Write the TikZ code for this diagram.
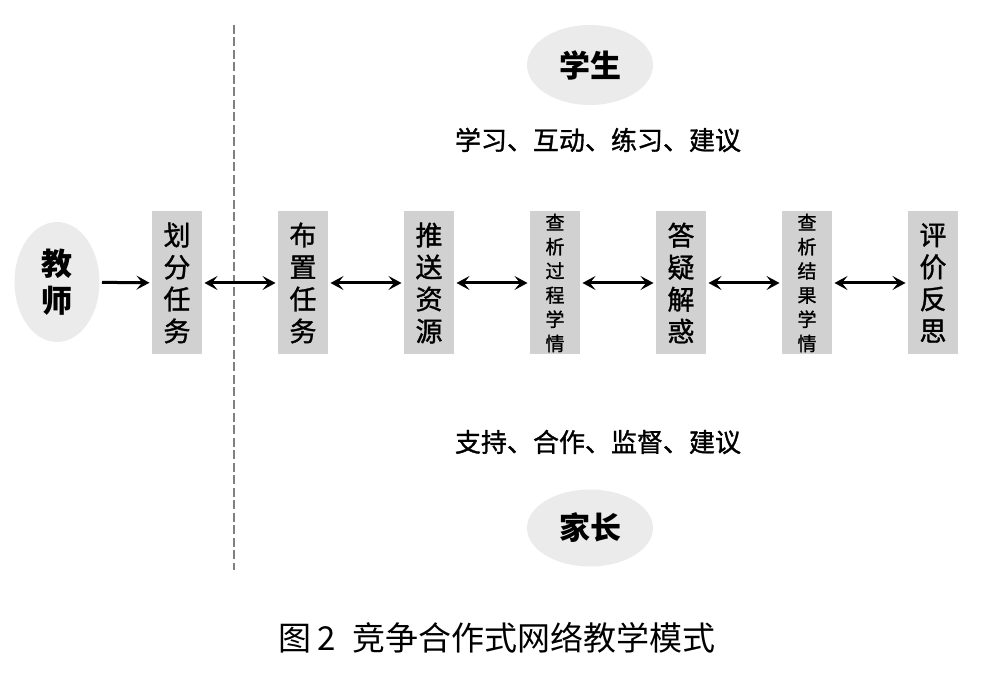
\documentclass[tikz,border=0pt]{standalone}
\usepackage{fontspec}
\newfontfamily\cjk{Noto Sans CJK SC}
\newfontfamily\cjkm[FakeBold=1.2]{Noto Sans CJK SC}
\usetikzlibrary{arrows.meta,positioning,shapes.geometric}

\begin{document}
\begin{tikzpicture}[x=1pt,y=1pt,<->,>={Stealth[length=13pt,width=14pt,inset=5.5pt]},shorten >=1pt,shorten <=1pt,line width=3pt,node distance=126pt,
	task node/.style={rectangle,fill=black!18,minimum width=50pt,minimum height=143pt,inner sep=0pt,align=center,font=\cjkm\fontsize{27}{32}\selectfont},
	small task/.style={task node,font=\cjkm\fontsize{19}{24.2}\selectfont},
	role node/.style={ellipse,fill=black!8,inner sep=0pt,align=center,font=\cjk\bfseries\fontsize{31}{37}\selectfont},
	note/.style={font=\cjkm\fontsize{26}{30}\selectfont}]
	\useasboundingbox (0,0) rectangle (990,678);
	\node[role node,minimum width=85pt,minimum height=120pt] (0) at (57,396) {教\\师};
	\node[task node] (1) at (177,395) {划\\分\\任\\务};
	\node[task node] (2) [right of=1] {布\\置\\任\\务};
	\node[task node] (3) [right of=2] {推\\送\\资\\源};
	\node[small task] (4) [right of=3] {查\\析\\过\\程\\学\\情};
	\node[task node] (5) [right of=4] {答\\疑\\解\\惑};
	\node[small task] (6) [right of=5] {查\\析\\结\\果\\学\\情};
	\node[task node] (7) [right of=6] {评\\价\\反\\思};

	\node[role node,minimum width=126pt,minimum height=80pt] (student) at (590,613) {学生};
	\node[note] (studo) at (598,538) {学习、互动、练习、建议};
	\node[note] (pardo) at (598,236) {支持、合作、监督、建议};
	\node[role node,minimum width=126pt,minimum height=77pt] (parent) at (590,150) {家长};

	\coordinate (top) at (234,653);
	\coordinate (bottom) at (234,108);
	\draw[-,gray,dash pattern=on 9pt off 3.5pt,line width=2.8pt,shorten >=0pt,shorten <=0pt] (top) -- (bottom);

	\path
		(0) edge [->] (1)
		(1) edge (2)
		(2) edge (3)
		(3) edge (4)
		(4) edge (5)
		(5) edge (6)
		(6) edge (7);

	\node[font=\cjk\fontsize{33}{40}\selectfont] (caption) at (497,40) {图\,2\enspace 竞争合作式网络教学模式};
\end{tikzpicture}
\end{document}
